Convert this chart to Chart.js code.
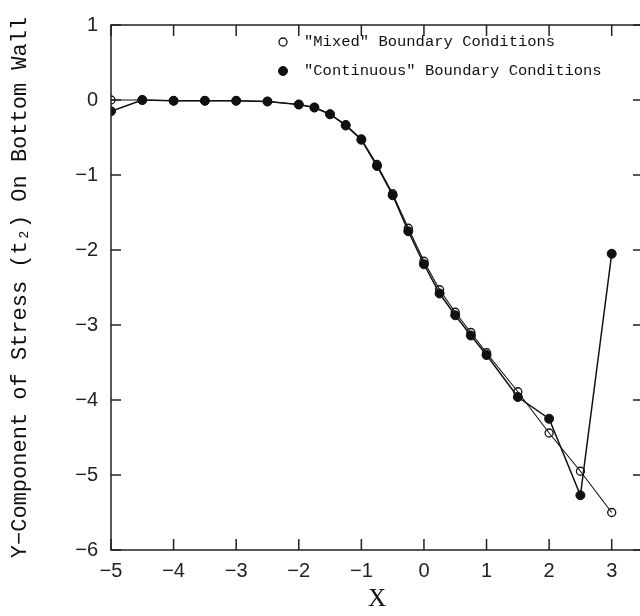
<!DOCTYPE html>
<html>
<head>
<meta charset="utf-8">
<script src="https://cdn.jsdelivr.net/npm/chart.js@4.4.0/dist/chart.umd.min.js"></script>
<style>
html,body{margin:0;padding:0;background:#fff;overflow:hidden;width:640px;height:616px;}
#wrap{position:absolute;left:0;top:0;width:660px;height:616px;}
</style>
</head>
<body>
<div id="wrap"><canvas id="c" width="660" height="616"></canvas></div>
<script>
const xValues = [-5, -4.5, -4, -3.5, -3, -2.5, -2, -1.75, -1.5, -1.25, -1, -0.75, -0.5, -0.25, 0, 0.25, 0.5, 0.75, 1, 1.5, 2, 2.5, 3];
const mixedValues = [0, 0, -0.01, -0.01, -0.01, -0.02, -0.06, -0.1, -0.19, -0.33, -0.52, -0.86, -1.25, -1.71, -2.15, -2.53, -2.83, -3.1, -3.37, -3.89, -4.44, -4.95, -5.5];
const continuousValues = [-0.15, 0, -0.01, -0.01, -0.01, -0.02, -0.06, -0.1, -0.19, -0.34, -0.53, -0.88, -1.27, -1.75, -2.19, -2.58, -2.87, -3.14, -3.4, -3.96, -4.25, -5.27, -2.05];
const xTickValues = [-5, -4, -3, -2, -1, 0, 1, 2, 3];
const yTickValues = [-6, -5, -4, -3, -2, -1, 0, 1];
const seriesLabels = ['"Mixed" Boundary Conditions', '"Continuous" Boundary Conditions'];
const xTitle = 'X';
const yTitle = 'Y\u2212Component of Stress (t\u2082) On Bottom Wall';

const toPts = (ys) => xValues.map((x, i) => ({x: x, y: ys[i]}));
const fmt = (v) => v < 0 ? '\u2212' + Math.abs(v) : String(v);

const framePlugin = {
  id: 'frame',
  afterDatasetsDraw(chart) {
    const ctx = chart.ctx, a = chart.chartArea;
    const xs = chart.scales.x, ys = chart.scales.y;
    ctx.save();
    ctx.strokeStyle = '#222';
    ctx.lineWidth = 1.5;
    ctx.strokeRect(a.left, a.top, a.right - a.left, a.bottom - a.top);
    ctx.beginPath();
    xs.ticks.forEach(t => {
      const px = xs.getPixelForValue(t.value);
      ctx.moveTo(px, a.bottom); ctx.lineTo(px, a.bottom - 11);
      ctx.moveTo(px, a.top); ctx.lineTo(px, a.top + 11);
    });
    ys.ticks.forEach(t => {
      const py = ys.getPixelForValue(t.value);
      ctx.moveTo(a.left, py); ctx.lineTo(a.left + 10, py);
      ctx.moveTo(a.right, py); ctx.lineTo(a.right - 10, py);
    });
    ctx.stroke();
    // legend
    const ds = chart.data.datasets;
    const lx = 283, ly = [42, 71];
    ctx.font = '15.5px "Liberation Mono", monospace';
    ctx.textBaseline = 'middle';
    ctx.fillStyle = '#111';
    ds.forEach((d, i) => {
      ctx.beginPath();
      ctx.arc(lx, ly[i], d.pointRadius, 0, Math.PI * 2);
      ctx.lineWidth = d.pointBorderWidth;
      ctx.strokeStyle = '#111';
      ctx.fillStyle = d.pointBackgroundColor;
      ctx.fill();
      ctx.stroke();
      ctx.fillStyle = '#111';
      ctx.fillText(d.label, 304, ly[i]);
    });
    ctx.restore();
  }
};

new Chart(document.getElementById('c'), {
  type: 'line',
  data: {
    datasets: [
      {
        label: seriesLabels[0],
        data: toPts(mixedValues),
        borderColor: '#111',
        borderWidth: 1.1,
        pointRadius: 4,
        pointBorderWidth: 1.3,
        pointBorderColor: '#111',
        pointBackgroundColor: 'rgba(255,255,255,0)',
        tension: 0,
        order: 0
      },
      {
        label: seriesLabels[1],
        data: toPts(continuousValues),
        borderColor: '#111',
        borderWidth: 1.5,
        pointRadius: 4.5,
        pointBorderWidth: 1,
        pointBorderColor: '#111',
        pointBackgroundColor: '#111',
        tension: 0,
        order: 1
      }
    ]
  },
  options: {
    responsive: false,
    animation: false,
    devicePixelRatio: 1,
    layout: {padding: {top: 13, right: 17, left: 0, bottom: 0}},
    plugins: {legend: {display: false}, tooltip: {enabled: false}},
    scales: {
      x: {
        type: 'linear', min: -5, max: 3.5,
        afterBuildTicks: (s) => { s.ticks = xTickValues.map(v => ({value: v})); },
        afterFit: (s) => { s.height = 66; },
        grid: {display: false, drawTicks: false},
        border: {display: false},
        ticks: {color: '#222', padding: 9, font: {family: '"Liberation Sans", Arial, sans-serif', size: 20}, callback: (v) => fmt(v), maxRotation: 0},
        title: {display: true, text: xTitle, color: '#111', font: {family: '"Liberation Serif", serif', size: 25}, padding: {top: 2, bottom: 2}}
      },
      y: {
        type: 'linear', min: -6, max: 1,
        afterBuildTicks: (s) => { s.ticks = yTickValues.map(v => ({value: v})); },
        afterFit: (s) => { s.width = 111; },
        grid: {display: false, drawTicks: false},
        border: {display: false},
        ticks: {color: '#222', padding: 13, font: {family: '"Liberation Sans", Arial, sans-serif', size: 20}, callback: (v) => fmt(v)},
        title: {display: true, text: yTitle, color: '#111', font: {family: '"Liberation Mono", monospace', size: 22}, padding: {top: 7, bottom: 0}}
      }
    }
  },
  plugins: [framePlugin]
});
</script>
</body>
</html>
